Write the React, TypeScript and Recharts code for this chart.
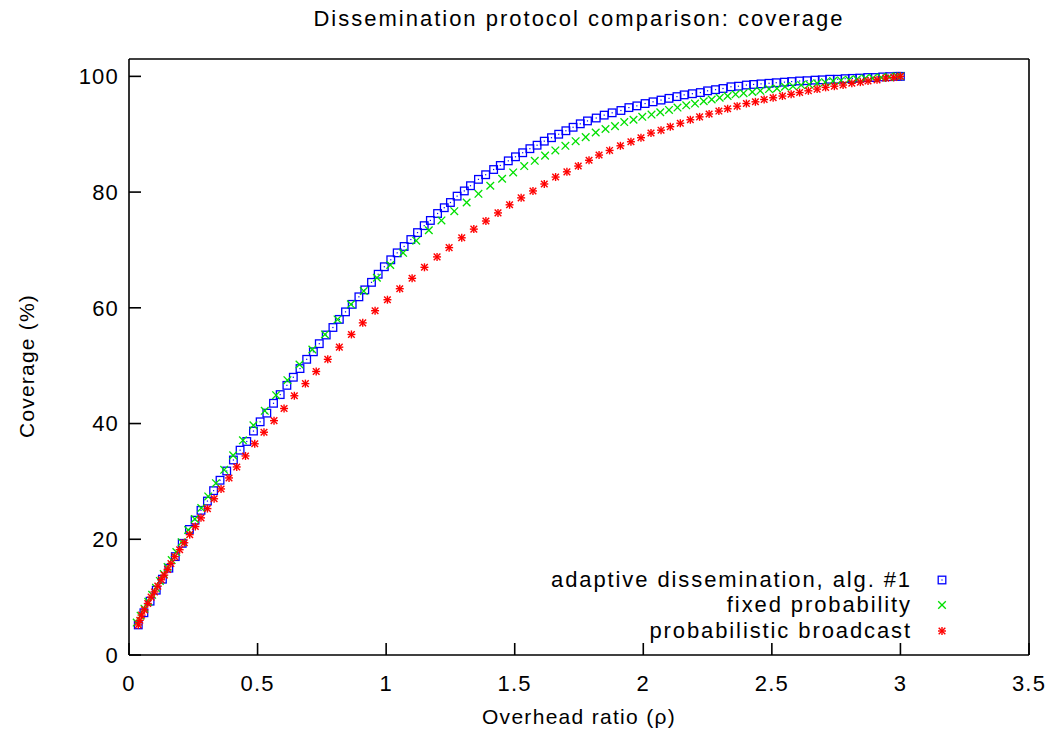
import { ScatterChart, Scatter, XAxis, YAxis, Legend } from "recharts";

const X_TICKS = [0, 0.5, 1, 1.5, 2, 2.5, 3, 3.5];
const Y_TICKS = [0, 20, 40, 60, 80, 100];

// [overhead ratio, coverage %]
const adaptive = [
  [0.036, 5.2], [0.058, 7.3], [0.082, 9.3], [0.106, 11.2], [0.13, 13.1], [0.155, 15.0], [0.18, 17.0], [0.207, 19.3],
  [0.235, 21.7], [0.257, 23.3], [0.28, 25.0], [0.305, 26.6], [0.329, 28.4], [0.354, 30.2], [0.38, 31.8], [0.406, 33.7],
  [0.432, 35.4], [0.458, 36.9], [0.484, 38.7], [0.51, 40.3], [0.536, 41.8], [0.562, 43.5], [0.588, 45.0], [0.614, 46.6],
  [0.639, 48.0], [0.665, 49.5], [0.691, 51.1], [0.717, 52.4], [0.74, 53.8], [0.767, 55.3], [0.793, 56.6], [0.818, 58.0],
  [0.842, 59.3], [0.868, 60.6], [0.894, 61.9], [0.917, 63.1], [0.943, 64.4], [0.969, 65.8], [0.993, 67.1], [1.018, 68.3],
  [1.043, 69.5], [1.07, 70.6], [1.096, 71.8], [1.122, 73.0], [1.148, 74.2], [1.172, 75.1], [1.2, 76.3], [1.226, 77.3],
  [1.25, 78.2], [1.276, 79.3], [1.304, 80.2], [1.328, 81.1], [1.359, 82.2], [1.387, 83.0], [1.418, 83.9], [1.444, 84.6],
  [1.475, 85.4], [1.503, 86.1], [1.531, 86.8], [1.559, 87.5], [1.587, 88.1], [1.615, 88.8], [1.643, 89.4], [1.671, 90.0],
  [1.699, 90.6], [1.727, 91.2], [1.755, 91.8], [1.783, 92.3], [1.817, 92.8], [1.848, 93.3], [1.879, 93.7], [1.913, 94.1],
  [1.944, 94.6], [1.975, 94.9], [2.007, 95.3], [2.038, 95.6], [2.069, 95.9], [2.1, 96.2], [2.131, 96.5], [2.159, 96.8],
  [2.191, 97.0], [2.222, 97.2], [2.25, 97.5], [2.281, 97.7], [2.31, 97.9], [2.341, 98.2], [2.37, 98.3], [2.401, 98.5],
  [2.429, 98.6], [2.458, 98.7], [2.489, 98.8], [2.517, 98.9], [2.549, 99.0], [2.577, 99.1], [2.608, 99.2], [2.637, 99.25],
  [2.668, 99.35], [2.696, 99.4], [2.725, 99.5], [2.756, 99.5], [2.785, 99.6], [2.813, 99.65], [2.842, 99.7], [2.873, 99.8],
  [2.902, 99.8], [2.931, 99.9], [2.958, 99.95], [2.987, 100], [3.0, 100],
];

const fixedProb = [
  [0.03, 5.6], [0.045, 6.8], [0.06, 8.0], [0.075, 9.2], [0.09, 10.4], [0.105, 11.6], [0.12, 12.8], [0.135, 14.0],
  [0.15, 15.2], [0.166, 16.4], [0.184, 17.8], [0.205, 19.5], [0.23, 21.6], [0.256, 23.5], [0.281, 25.4], [0.308, 27.4],
  [0.338, 29.7], [0.37, 32.0], [0.405, 34.5], [0.443, 37.1], [0.484, 39.7], [0.528, 42.2], [0.572, 44.9], [0.616, 47.5],
  [0.663, 50.2], [0.713, 52.8], [0.762, 55.4], [0.811, 58.0], [0.863, 60.6], [0.913, 62.9], [0.964, 65.2], [1.016, 67.4],
  [1.066, 69.5], [1.117, 71.6], [1.166, 73.4], [1.215, 75.1], [1.265, 76.7], [1.313, 78.2], [1.359, 79.7], [1.405, 81.1],
  [1.451, 82.3], [1.494, 83.4], [1.537, 84.5], [1.578, 85.4], [1.618, 86.3], [1.658, 87.2], [1.697, 88.0], [1.737, 88.8],
  [1.776, 89.5], [1.815, 90.3], [1.853, 90.9], [1.89, 91.4], [1.926, 92.1], [1.962, 92.5], [1.996, 93.0], [2.032, 93.4],
  [2.066, 93.8], [2.1, 94.2], [2.133, 94.6], [2.167, 95.0], [2.201, 95.3], [2.235, 95.7], [2.266, 96.0], [2.297, 96.3],
  [2.328, 96.6], [2.359, 96.9], [2.39, 97.1], [2.424, 97.3], [2.455, 97.5], [2.489, 97.8], [2.52, 97.9], [2.551, 98.2],
  [2.582, 98.3], [2.614, 98.5], [2.645, 98.6], [2.676, 98.8], [2.707, 99.0], [2.738, 99.2], [2.769, 99.3], [2.8, 99.4],
  [2.831, 99.5], [2.863, 99.65], [2.893, 99.7], [2.925, 99.8], [2.956, 99.9], [2.987, 100], [3.0, 100],
];

const probBroadcast = [
  [0.036, 5.2], [0.042, 6.0], [0.049, 6.9], [0.06, 7.8], [0.073, 8.9], [0.086, 10.0], [0.099, 10.9], [0.112, 11.9],
  [0.125, 13.0], [0.137, 13.8], [0.15, 14.8], [0.163, 15.8], [0.178, 17.0], [0.197, 18.2], [0.215, 19.4], [0.236, 20.8],
  [0.258, 22.2], [0.28, 23.7], [0.305, 25.3], [0.331, 27.0], [0.358, 28.7], [0.389, 30.6], [0.419, 32.5], [0.453, 34.4],
  [0.489, 36.5], [0.525, 38.5], [0.564, 40.5], [0.603, 42.6], [0.643, 44.8], [0.686, 46.9], [0.728, 49.0], [0.773, 51.1],
  [0.818, 53.2], [0.865, 55.4], [0.909, 57.4], [0.957, 59.5], [1.005, 61.4], [1.053, 63.3], [1.101, 65.1], [1.149, 67.0],
  [1.198, 68.8], [1.245, 70.4], [1.294, 72.1], [1.341, 73.6], [1.388, 75.0], [1.435, 76.4], [1.48, 77.8], [1.525, 79.0],
  [1.571, 80.2], [1.615, 81.4], [1.659, 82.6], [1.703, 83.5], [1.747, 84.5], [1.789, 85.5], [1.828, 86.4], [1.869, 87.2],
  [1.911, 88.0], [1.952, 88.7], [1.991, 89.4], [2.03, 90.2], [2.069, 90.7], [2.105, 91.3], [2.144, 91.9], [2.183, 92.5],
  [2.219, 93.0], [2.256, 93.5], [2.294, 94.0], [2.328, 94.4], [2.365, 94.85], [2.401, 95.3], [2.436, 95.6], [2.47, 96.0],
  [2.505, 96.3], [2.541, 96.6], [2.575, 96.9], [2.608, 97.2], [2.642, 97.5], [2.676, 97.8], [2.709, 98.1], [2.743, 98.3],
  [2.777, 98.5], [2.811, 98.8], [2.844, 99.0], [2.874, 99.2], [2.909, 99.4], [2.943, 99.7], [2.974, 99.8], [3.0, 100],
];

const SERIES_NAMES = ["adaptive dissemination, alg. #1", "fixed probability", "probabilistic broadcast"];

const BLUE = "#0000ff";
const GREEN = "#00e000";
const RED = "#ff0000";
const FONT = "'Liberation Sans', Arial, sans-serif";

const toPoints = (rows: number[][]) => rows.map(([x, y]) => ({ x, y }));

const BoxMark = ({ cx, cy }: any) => (
  <g>
    <rect x={cx - 3.8} y={cy - 3.8} width={7.6} height={7.6} fill="none" stroke={BLUE} strokeWidth={1.3} />
    <rect x={cx - 0.6} y={cy - 0.6} width={1.2} height={1.2} fill={BLUE} />
  </g>
);

const CrossMark = ({ cx, cy }: any) => (
  <g stroke={GREEN} strokeWidth={1.3}>
    <line x1={cx - 3.8} y1={cy - 3.8} x2={cx + 3.8} y2={cy + 3.8} />
    <line x1={cx - 3.8} y1={cy + 3.8} x2={cx + 3.8} y2={cy - 3.8} />
  </g>
);

const StarMark = ({ cx, cy }: any) => (
  <g stroke={RED} strokeWidth={1.4}>
    <line x1={cx - 4} y1={cy} x2={cx + 4} y2={cy} />
    <line x1={cx} y1={cy - 4} x2={cx} y2={cy + 4} />
    <line x1={cx - 3.3} y1={cy - 3.3} x2={cx + 3.3} y2={cy + 3.3} />
    <line x1={cx - 3.3} y1={cy + 3.3} x2={cx + 3.3} y2={cy - 3.3} />
  </g>
);

const MARKS = [BoxMark, CrossMark, StarMark];

function LegendBox() {
  return (
    <div style={{ fontFamily: FONT, fontSize: 22, color: "#000" }}>
      {SERIES_NAMES.map((name, i) => {
        const Mark = MARKS[i];
        return (
          <div key={name} style={{ display: "flex", alignItems: "center", justifyContent: "flex-end", height: 25.5 }}>
            <span style={{ letterSpacing: 1.9, whiteSpace: "nowrap" }}>{name}</span>
            <svg width={20} height={20} style={{ marginLeft: 20, marginRight: 8 }}>
              <Mark cx={10} cy={10} />
            </svg>
          </div>
        );
      })}
    </div>
  );
}

const tickStyle = { fill: "#000", fontSize: 22, fontFamily: FONT, letterSpacing: 1.2 };
const frame = { stroke: "#000", strokeWidth: 1.6 };

export default function App() {
  return (
    <div style={{ position: "absolute", left: 0, top: 0, width: 1055, height: 736, background: "#fff", fontFamily: FONT }}>
      <div style={{ position: "absolute", left: 129, width: 900, top: 6, textAlign: "center", fontSize: 22, letterSpacing: 2 }}>
        Dissemination protocol comparison: coverage
      </div>
      <div style={{ position: "absolute", left: 129, width: 900, top: 705, textAlign: "center", fontSize: 21, letterSpacing: 1.3 }}>
        Overhead ratio (ρ)
      </div>
      <div
        style={{
          position: "absolute",
          left: 27,
          top: 366,
          transform: "translate(-50%, -50%) rotate(-90deg)",
          fontSize: 21,
          letterSpacing: 1.2,
          whiteSpace: "nowrap",
        }}
      >
        Coverage (%)
      </div>
      <ScatterChart width={1055} height={736} margin={{ top: 59, right: 26, bottom: 80, left: 128 }}>
        <XAxis
          xAxisId="b"
          dataKey="x"
          type="number"
          domain={[0, 3.5]}
          ticks={X_TICKS}
          interval={0}
          height={1}
          tickSize={-12}
          tickMargin={32}
          tick={tickStyle}
          axisLine={frame}
          tickLine={frame}
          allowDataOverflow
        />
        <XAxis
          xAxisId="t"
          orientation="top"
          type="number"
          domain={[0, 3.5]}
          ticks={X_TICKS}
          interval={0}
          height={1}
          mirror
          tickSize={12}
          tick={false}
          axisLine={frame}
          tickLine={frame}
          allowDataOverflow
        />
        <YAxis
          yAxisId="l"
          dataKey="y"
          type="number"
          domain={[0, 103]}
          ticks={Y_TICKS}
          interval={0}
          width={1}
          tickSize={-12}
          tickMargin={22}
          tick={tickStyle}
          axisLine={frame}
          tickLine={frame}
          allowDataOverflow
        />
        <YAxis
          yAxisId="r"
          orientation="right"
          type="number"
          domain={[0, 103]}
          ticks={Y_TICKS}
          interval={0}
          width={1}
          mirror
          tickSize={12}
          tick={false}
          axisLine={frame}
          tickLine={frame}
          allowDataOverflow
        />
        <Scatter
          name={SERIES_NAMES[0]}
          data={toPoints(adaptive)}
          xAxisId="b"
          yAxisId="l"
          fill={BLUE}
          shape={BoxMark}
          isAnimationActive={false}
        />
        <Scatter
          name={SERIES_NAMES[1]}
          data={toPoints(fixedProb)}
          xAxisId="b"
          yAxisId="l"
          fill={GREEN}
          shape={CrossMark}
          isAnimationActive={false}
        />
        <Scatter
          name={SERIES_NAMES[2]}
          data={toPoints(probBroadcast)}
          xAxisId="b"
          yAxisId="l"
          fill={RED}
          shape={StarMark}
          isAnimationActive={false}
        />
        <Legend
          layout="vertical"
          align="center"
          verticalAlign="middle"
          wrapperStyle={{ position: "absolute", left: 480, top: 567, width: 480 }}
          content={() => <LegendBox />}
        />
      </ScatterChart>
    </div>
  );
}
